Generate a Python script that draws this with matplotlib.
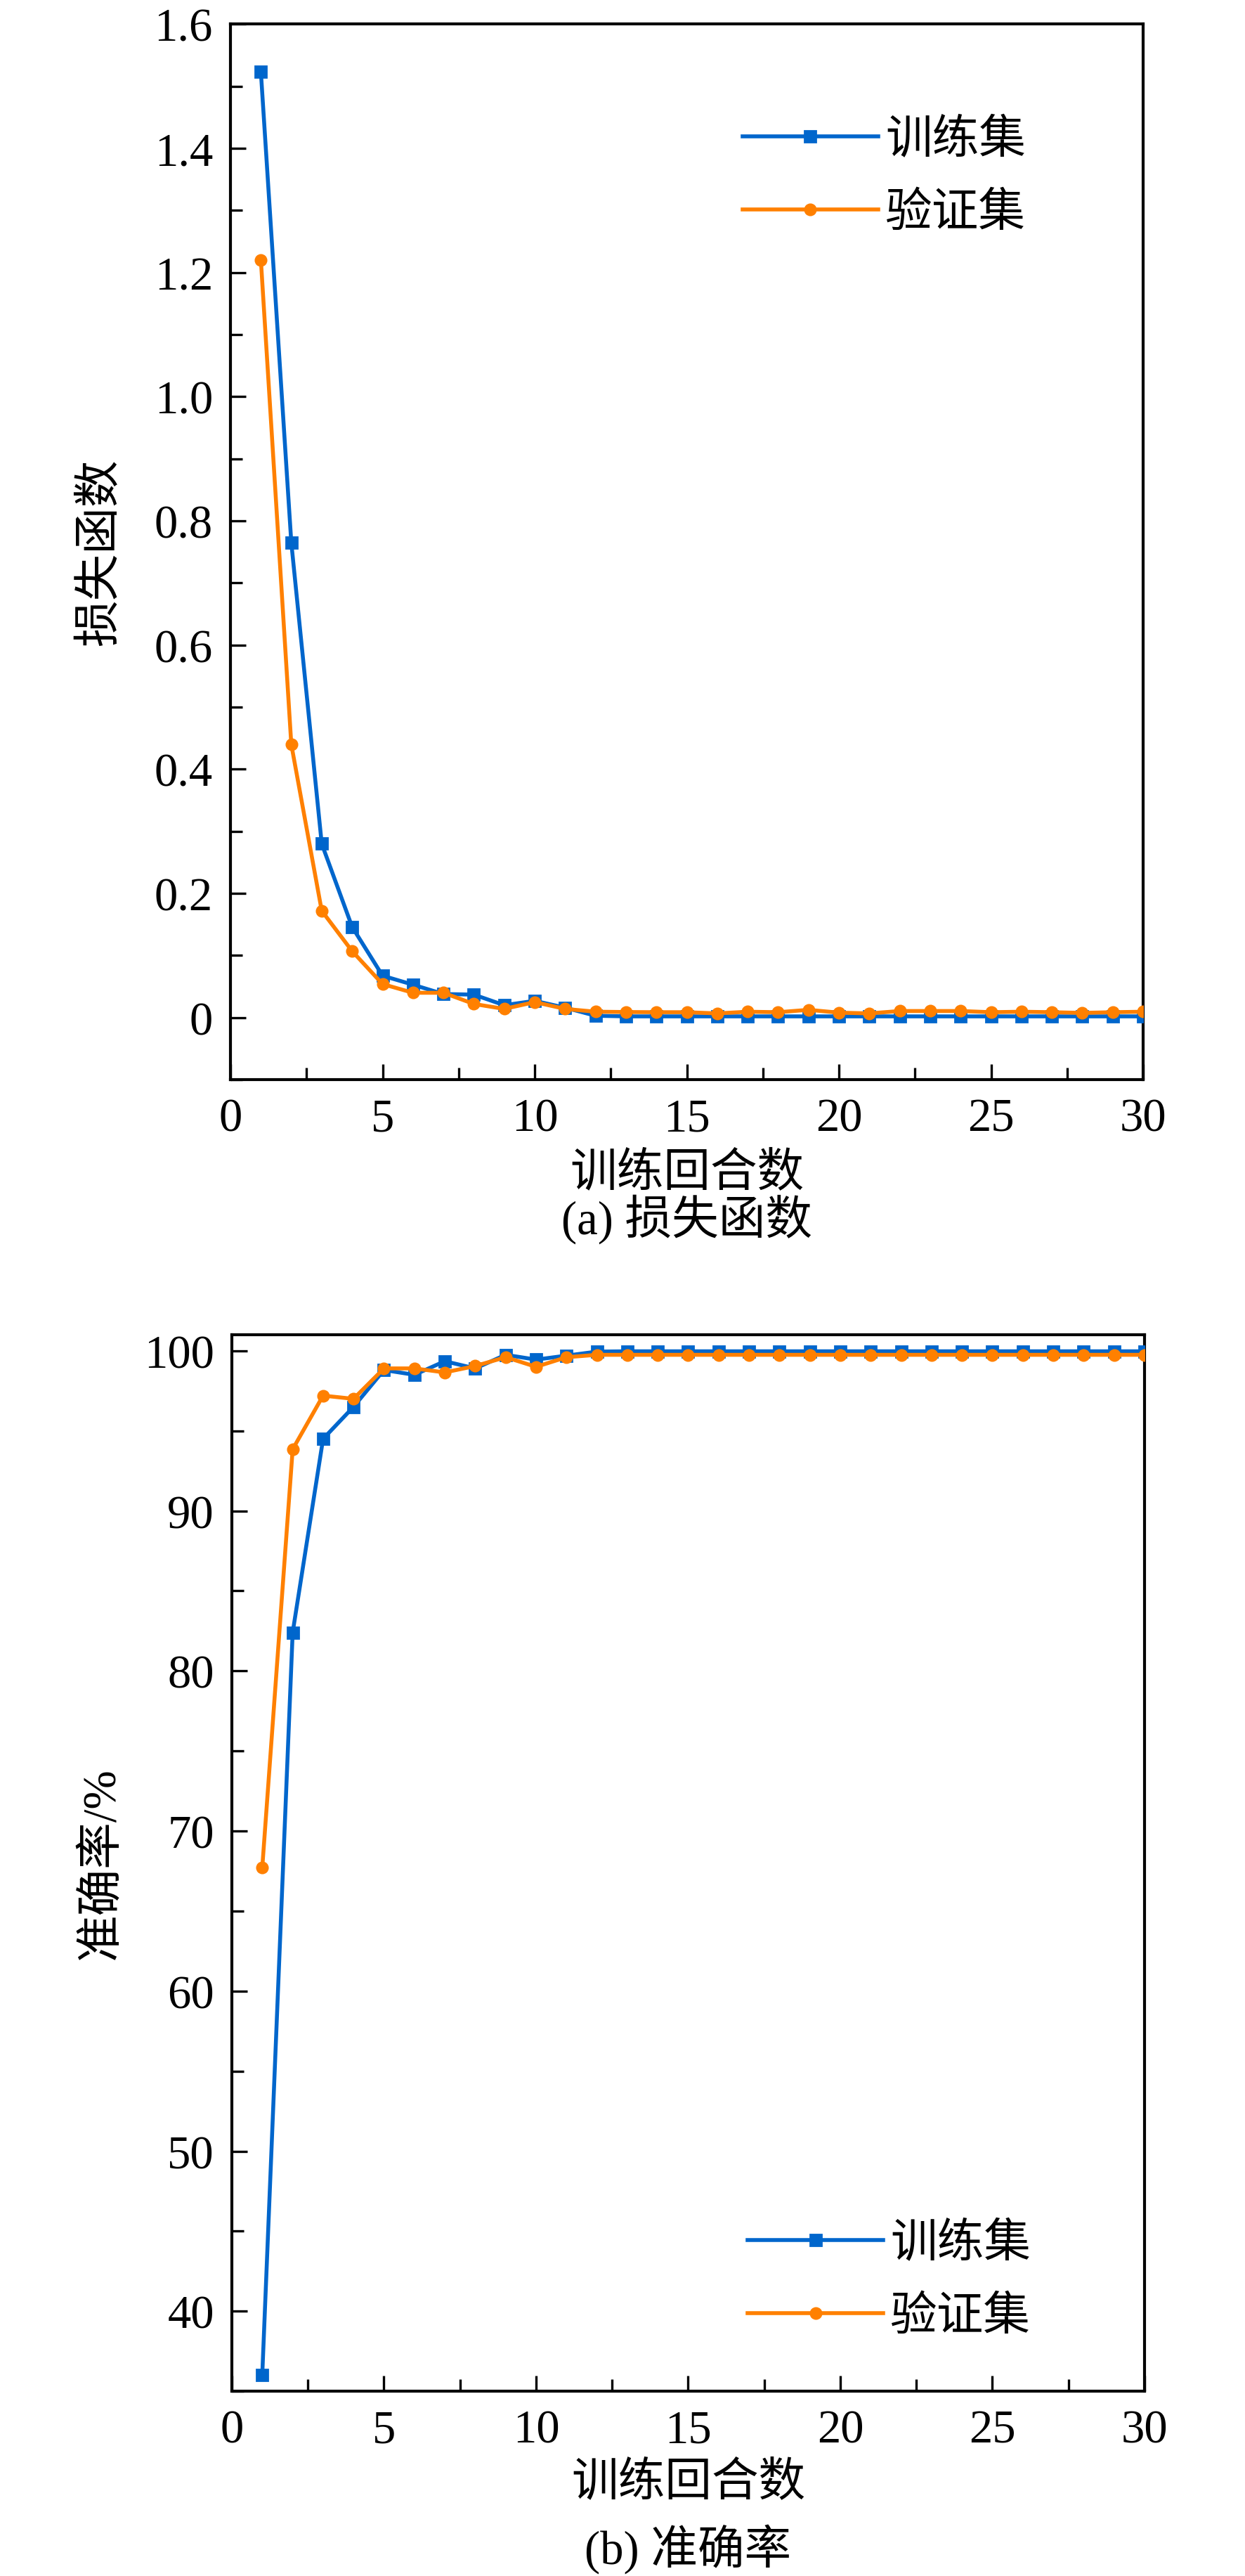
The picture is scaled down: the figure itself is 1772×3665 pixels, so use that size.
import matplotlib
matplotlib.use("Agg")
import matplotlib.pyplot as plt
from matplotlib.ticker import MultipleLocator, FuncFormatter

plt.rcParams['font.family'] = ['Liberation Serif', 'Noto Sans CJK SC']
plt.rcParams['axes.unicode_minus'] = False

epochs = list(range(1, 31))

loss_train = [1.523, 0.765, 0.280, 0.146, 0.0675, 0.053, 0.038, 0.037, 0.020, 0.027,
              0.016, 0.003, 0.002, 0.002, 0.002, 0.002, 0.002, 0.002, 0.002, 0.002,
              0.002, 0.002, 0.002, 0.002, 0.002, 0.002, 0.002, 0.002, 0.002, 0.002]
loss_val = [1.220, 0.440, 0.172, 0.107, 0.054, 0.040, 0.040, 0.022, 0.014, 0.025,
            0.014, 0.0095, 0.009, 0.0087, 0.0087, 0.0068, 0.0095, 0.0087, 0.0125, 0.008,
            0.0068, 0.0106, 0.0106, 0.0106, 0.0087, 0.0095, 0.0087, 0.0076, 0.0087, 0.0095]

acc_train = [36.0, 82.4, 94.5, 96.5, 98.8, 98.5, 99.35, 98.9, 99.75, 99.45,
             99.7, 99.95, 99.97, 99.97, 99.97, 99.97, 99.97, 99.97, 99.97, 99.97,
             99.97, 99.97, 99.97, 99.97, 99.97, 99.97, 99.97, 99.97, 99.97, 99.97]
acc_val = [67.7, 93.85, 97.2, 97.0, 98.9, 98.9, 98.65, 99.05, 99.6, 99.0,
           99.6, 99.75, 99.75, 99.75, 99.75, 99.75, 99.75, 99.75, 99.75, 99.75,
           99.75, 99.75, 99.75, 99.75, 99.75, 99.75, 99.75, 99.75, 99.75, 99.75]

series_labels = ['训练集', '验证集']
xlabel_text = '训练回合数'
ylabel_loss = '损失函数'
ylabel_acc = '准确率/%'
caption_a = '(a) 损失函数'
caption_b = '(b) 准确率'

BLUE = '#0066CC'
ORANGE = '#FF8000'
FS = 24

fig = plt.figure(figsize=(8.86, 18.33), dpi=200)
ax1 = fig.add_axes([0.1851, 0.5807, 0.7331, 0.4097])
ax2 = fig.add_axes([0.1862, 0.0717, 0.7331, 0.4100])


def style(ax):
    for s in ax.spines.values():
        s.set_linewidth(1.5)
    ax.tick_params(which='both', direction='in', top=False, right=False,
                   labelsize=FS, width=1.2)
    ax.tick_params(which='major', length=8, pad=9)
    ax.tick_params(which='minor', length=6)
    ax.xaxis.set_major_locator(MultipleLocator(5))
    ax.xaxis.set_minor_locator(MultipleLocator(2.5))
    ax.set_xlim(0, 30)


def plot_pair(ax, ytr, yva):
    ax.plot(epochs, ytr, color=BLUE, lw=2.0, marker='s', ms=5.5,
            label=series_labels[0], zorder=3)
    ax.plot(epochs, yva, color=ORANGE, lw=2.0, marker='o', ms=5.5,
            label=series_labels[1], zorder=4)


plot_pair(ax1, loss_train, loss_val)
style(ax1)
ax1.set_ylim(-0.1, 1.6)
ax1.yaxis.set_major_locator(MultipleLocator(0.2))
ax1.yaxis.set_minor_locator(MultipleLocator(0.1))
ax1.yaxis.set_major_formatter(FuncFormatter(lambda v, p: '0' if abs(v) < 1e-9 else f'{v:.1f}'))
ax1.set_ylabel(ylabel_loss, fontsize=FS, va='center')
ax1.yaxis.set_label_coords(-0.142, 0.5)
ax1.legend(loc='center left', bbox_to_anchor=(0.561, 0.855), frameon=False,
           fontsize=FS, handlelength=2.9, handletextpad=0.15, labelspacing=0.64,
           borderpad=0, borderaxespad=0, numpoints=1)

plot_pair(ax2, acc_train, acc_val)
style(ax2)
ax2.set_ylim(35, 101)
ax2.yaxis.set_major_locator(MultipleLocator(10))
ax2.yaxis.set_minor_locator(MultipleLocator(5))
ax2.set_ylabel(ylabel_acc, fontsize=FS, va='center')
ax2.yaxis.set_label_coords(-0.142, 0.5)
ax2.legend(loc='center left', bbox_to_anchor=(0.565, 0.1045), frameon=False,
           fontsize=FS, handlelength=2.9, handletextpad=0.15, labelspacing=0.64,
           borderpad=0, borderaxespad=0, numpoints=1)

cx1 = 0.1851 + 0.7331 / 2
cx2 = 0.1862 + 0.7331 / 2
fig.text(cx1, 1 - 1670 / 3666, xlabel_text, ha='center', va='center', fontsize=FS)
fig.text(cx1, 1 - 1735 / 3666, caption_a, ha='center', va='center', fontsize=FS)
fig.text(cx2, 1 - 3533 / 3666, xlabel_text, ha='center', va='center', fontsize=FS)
fig.text(cx2, 1 - 3627 / 3666, caption_b, ha='center', va='center', fontsize=FS)

fig.savefig('out.png', dpi=200, facecolor='white')
